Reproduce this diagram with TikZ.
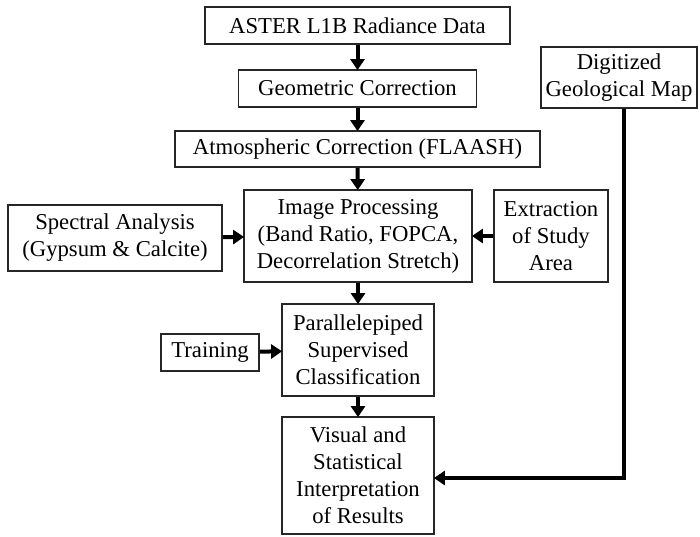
\documentclass[tikz,border=0pt]{standalone}
\usepackage{fontspec}
\setmainfont{Liberation Serif}
\usetikzlibrary{arrows.meta}
\begin{document}
\begin{tikzpicture}[x=1pt,y=-1pt,
  box/.style={draw=black!85, line width=1.8pt, inner sep=0pt, align=center,
    font=\fontsize{22.7}{27}\selectfont},
  arr/.style={line width=4pt, -{Triangle[length=11pt,width=14pt]}, shorten >=-1pt},
  link/.style={line width=4pt}]
\useasboundingbox (0,0) rectangle (700,536);

% main chain
\node[box, minimum width=305pt, minimum height=37pt] (aster) at (357.5,25.5) {ASTER L1B Radiance Data};
\node[box, minimum width=238pt, minimum height=37pt] (geo) at (357.5,88.5) {Geometric Correction};
\node[box, minimum width=365pt, minimum height=36pt] (atm) at (357.5,149) {Atmospheric Correction (FLAASH)};
\node[box, minimum width=228pt, minimum height=92pt] (proc) at (358,236) {Image Processing\\(Band Ratio, FOPCA,\\Decorrelation Stretch)};
\node[box, minimum width=152pt, minimum height=92pt] (cls) at (358,350) {Parallelepiped\\Supervised\\Classification};
\node[box, minimum width=152pt, minimum height=117pt] (vis) at (358,475.5) {Visual and\\Statistical\\Interpretation\\of Results};

% side inputs
\node[box, minimum width=214pt, minimum height=66pt] (spec) at (115,238) {Spectral Analysis\\(Gypsum \& Calcite)};
\node[box, minimum width=114pt, minimum height=92pt] (ext) at (551,236) {Extraction\\of Study\\Area};
\node[box, minimum width=98pt, minimum height=37pt] (train) at (210,352.5) {Training};
\node[box, minimum width=156pt, minimum height=61pt] (dig) at (619,77.5) {Digitized\\Geological Map};

% connectors
\draw[arr] (aster) -- (geo);
\draw[arr] (geo) -- (atm);
\draw[arr] (atm) -- (proc);
\draw[arr] (proc) -- (cls);
\draw[arr] (cls) -- (vis);
\draw[arr] (spec) -- (proc);
\draw[arr] (ext) -- (proc);
\draw[arr] (train) -- (cls);

\coordinate (bend) at (624,478);
\draw[arr] (dig.south -| bend) -- (bend) -- (bend -| vis.east);
\end{tikzpicture}
\end{document}
